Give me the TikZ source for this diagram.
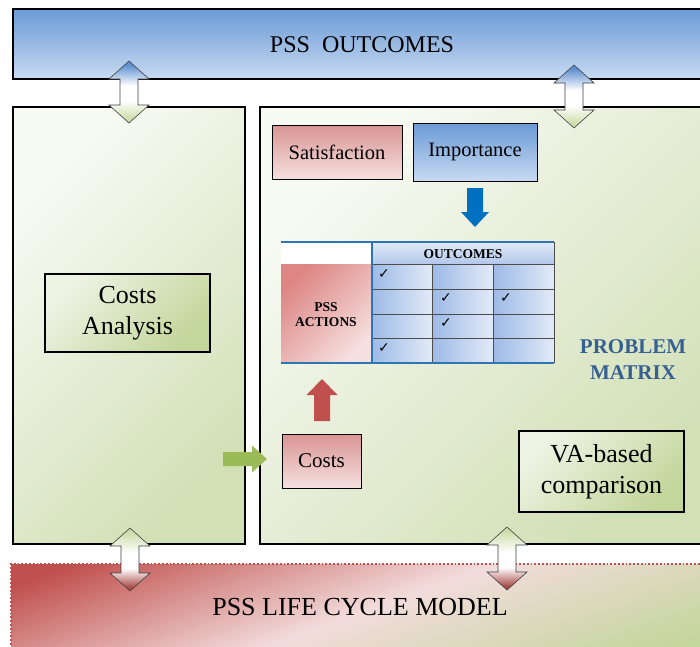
\documentclass[tikz,border=0pt]{standalone}
\usepackage{fontspec}
\setmainfont{Liberation Serif}
\newfontfamily\symfont{DejaVu Sans}
\definecolor{bandblueT}{HTML}{6A9AD6}
\definecolor{bandblueB}{HTML}{C8DAF1}
\definecolor{panelL}{HTML}{F8FAF4}
\definecolor{panelD}{HTML}{D2E0B6}
\definecolor{boxgL}{HTML}{EEF3E4}
\definecolor{boxgD}{HTML}{C3D69B}
\definecolor{redT}{HTML}{D99593}
\definecolor{redB}{HTML}{F5E0DF}
\definecolor{arrowblue}{HTML}{0070C0}
\definecolor{arrowred}{HTML}{C0504D}
\definecolor{arrowgreen}{HTML}{9BBB59}
\definecolor{pmblue}{HTML}{376092}
\definecolor{tblborder}{HTML}{2E75B6}
\definecolor{cellD}{HTML}{9DBAE6}
\definecolor{cellL}{HTML}{E2EAF7}
\definecolor{lcred}{HTML}{C0504D}
\definecolor{lcpink}{HTML}{F2DCDB}
\definecolor{lcgreen}{HTML}{C3D69B}
\definecolor{arrBlue}{HTML}{5E8FD0}
\definecolor{arrGreen}{HTML}{CCDDAA}
\definecolor{arrRed}{HTML}{A84B48}
\pgfdeclareverticalshading{lcmshade}{100bp}{color(0bp)=(lcgreen); color(22bp)=(lcgreen); color(50bp)=(lcpink); color(78bp)=(lcred); color(100bp)=(lcred)}
\pgfdeclareverticalshading{upshade}{100bp}{color(0bp)=(arrGreen); color(28bp)=(arrGreen); color(43bp)=(white); color(55bp)=(white); color(72bp)=(arrBlue); color(100bp)=(arrBlue)}
\pgfdeclareverticalshading{downshade}{100bp}{color(0bp)=(arrRed); color(28bp)=(arrRed); color(43bp)=(white); color(55bp)=(white); color(72bp)=(arrGreen); color(100bp)=(arrGreen)}
\newcommand\vdblarrow[4]{%
  \path[#4] (#1,#2) -- ++(20,18) -- ++(-11,0) -- (#1+9,#3-18) -- ++(11,0) -- (#1,#3)
    -- ++(-20,-18) -- ++(11,0) -- (#1-9,#2+18) -- ++(-11,0) -- cycle;}
\tikzset{
  panel/.style={draw=black, line width=1.3pt, top color=panelL, bottom color=panelD, shading angle=45},
  redbox/.style={draw=black, line width=1pt, top color=redT, bottom color=redB, inner sep=2pt},
  bluebox/.style={draw=black, line width=1pt, top color=bandblueT, bottom color=bandblueB, inner sep=2pt},
  greenbox/.style={draw=black, line width=1.3pt, top color=boxgL, bottom color=boxgD, shading angle=45, align=center, inner sep=2pt},
  uparr/.style={draw=black!75, line width=0.6pt, shading=upshade},
  downarr/.style={draw=black!75, line width=0.6pt, shading=downshade},
  cell/.style={left color=cellD, right color=cellL},
  gridl/.style={draw=black!70, line width=0.8pt},
  tick/.style={font=\symfont\fontsize{14}{14}\selectfont, inner sep=0pt},
  tbltxt/.style={font=\bfseries\fontsize{13.5}{15}\selectfont, inner sep=0pt, align=center}
}
\begin{document}
\begin{tikzpicture}[x=1pt, y=-1pt]
\useasboundingbox (0,0) rectangle (700,646);
\fill[white] (0,0) rectangle (700,646);
% top band
\path[draw=black, line width=1.3pt, top color=bandblueT, bottom color=bandblueB] (13,9) rectangle (710,79);
\node (outc) at (362,45) {\fontsize{24}{28}\selectfont PSS\ \ OUTCOMES};
% panels
\path[panel] (13,107) rectangle (245,544);
\path[panel] (260,107) rectangle (710,544);
% bottom band
\path[shading=lcmshade, shading angle=20] (11,564) rectangle (710,660);
\draw[lcred, line width=1.8pt, dotted] (11,660) -- (11,564) -- (710,564);
\node (lcm) at (360,607) {\fontsize{26}{30}\selectfont PSS LIFE CYCLE MODEL};
% double arrows
\vdblarrow{129}{61}{123}{uparr}
\vdblarrow{574}{65}{128}{uparr}
\vdblarrow{130}{528}{591}{downarr}
\vdblarrow{507}{527}{590}{downarr}
% boxes
\node[greenbox, minimum width=165pt, minimum height=78pt, font=\fontsize{26}{31}\selectfont] (ca) at (127.5,313) {Costs\\Analysis};
\node[redbox, minimum width=130pt, minimum height=54pt, font=\fontsize{20.5}{24}\selectfont] (sat) at (337,152) {Satisfaction};
\node[bluebox, minimum width=124pt, minimum height=58pt, font=\fontsize{20.5}{24}\selectfont] (imp) at (475,152) {Importance};
\node[redbox, minimum width=79pt, minimum height=54pt, font=\fontsize{21}{24}\selectfont] (costs) at (321.5,461) {Costs};
\node[greenbox, minimum width=165pt, minimum height=81pt, font=\fontsize{26}{31}\selectfont] (va) at (601.5,471.5) {VA-based\\comparison};
\node[font=\bfseries\fontsize{21}{26}\selectfont, text=pmblue, align=center, inner sep=0pt] (pm) at (633,360) {PROBLEM\\MATRIX};
% table
\fill[white] (281,242) rectangle (372,264);
\path[top color=cellL, bottom color=cellD!70!cellL] (372,242) rectangle (554,264);
\path[top color=redT!90!red, bottom color=redB, shading angle=45] (281,264) rectangle (372,363);
\foreach \ya/\yb in {264/289, 289/314, 314/338, 338/363}
  \foreach \xa/\xb in {372/432, 432/493, 493/554}
    \path[cell] (\xa,\ya) rectangle (\xb,\yb);
\foreach \yy in {264, 289, 314, 338} \draw[gridl] (372,\yy) -- (554,\yy);
\foreach \xx in {432, 493} \draw[gridl] (\xx,264) -- (\xx,363);
\draw[gridl] (554,242) -- (554,363);
\draw[tblborder, line width=1.4pt] (281,242) -- (554,242);
\draw[tblborder, line width=1.4pt] (281,363) -- (554,363);
\draw[tblborder, line width=1.4pt] (372,242) -- (372,363);
\node[tbltxt] (hdr) at (463,254) {OUTCOMES};
\node[tbltxt] (act) at (326,315) {PSS\\ACTIONS};
\node[tick] (t11) at (384,274) {✓};
\node[tick] (t22) at (446,298) {✓};
\node[tick] (t23) at (506,298) {✓};
\node[tick] (t32) at (446,323) {✓};
\node[tick] (t41) at (384,348) {✓};
% block arrows
\path[fill=arrowblue] (467,188) -- (483,188) -- (483,212) -- (489,212) -- (475,227) -- (461,212) -- (467,212) -- cycle;
\path[fill=arrowred] (314,421) -- (330,421) -- (330,395) -- (337.5,395) -- (322,379) -- (306.5,395) -- (314,395) -- cycle;
\path[fill=arrowgreen] (223,452) -- (252,452) -- (252,445.5) -- (267,459) -- (252,472.5) -- (252,466) -- (223,466) -- cycle;
\end{tikzpicture}
\end{document}
